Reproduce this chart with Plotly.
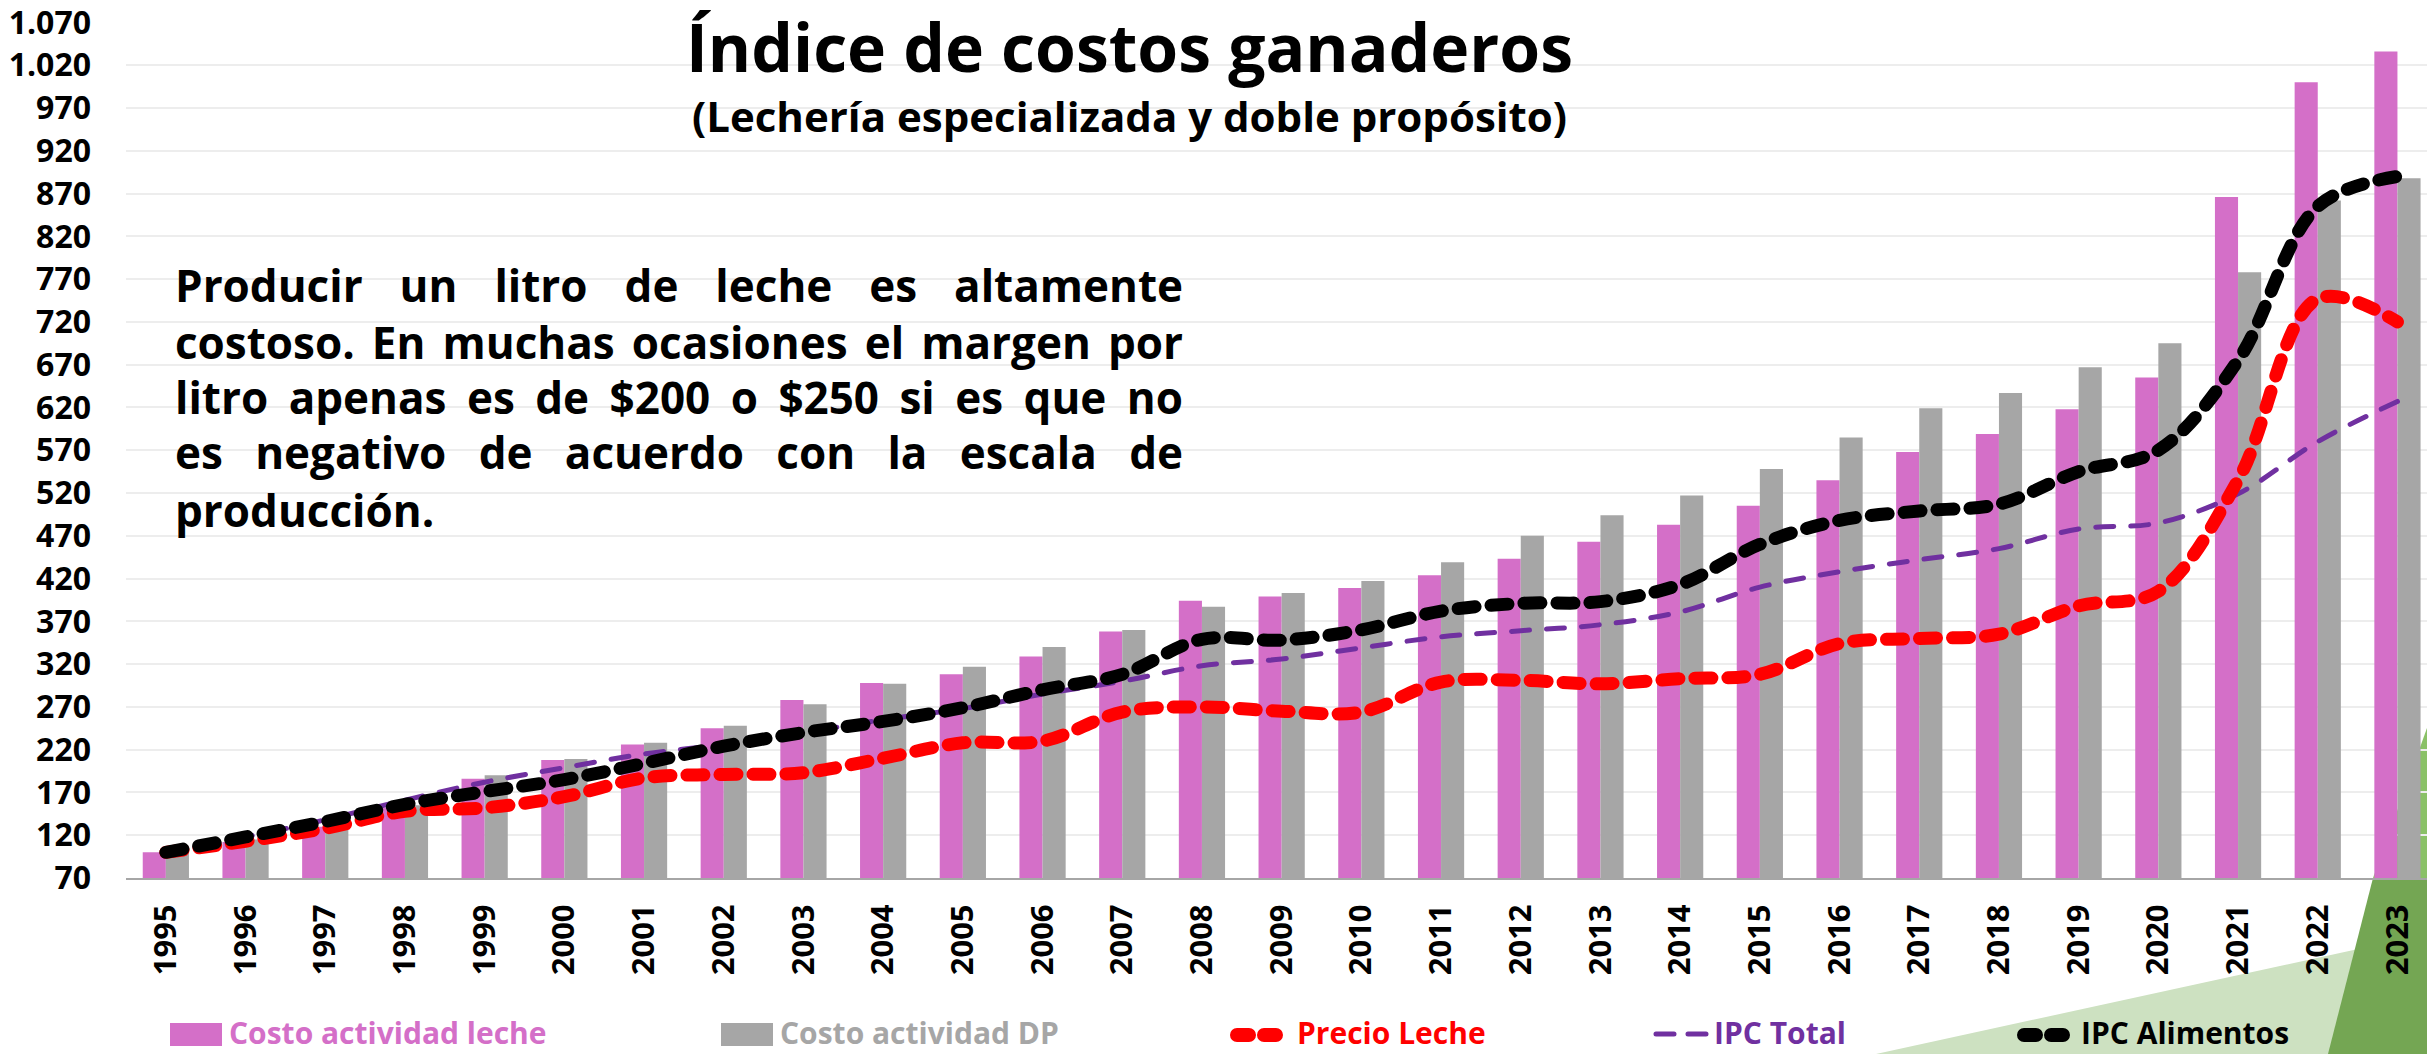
import json
import plotly.graph_objects as go

# ---------------- data ----------------
years = [str(y) for y in range(1995, 2024)]
costo_leche = [100, 112, 130, 152, 186, 208, 226, 245, 278, 298, 308, 329, 358, 394, 399,
               409, 424, 443, 463, 483, 505, 535, 568, 589, 618, 655, 866, 1000, 1036]
costo_dp = [100, 115, 133, 155, 190, 209, 228, 248, 273, 297, 317, 340, 360, 387, 403,
            417, 439, 470, 494, 517, 548, 585, 619, 637, 667, 695, 778, 862, 888]
precio_leche = [100, 113, 128, 148, 152, 165, 187, 191, 193, 210, 228, 230, 264, 270, 265,
                264, 299, 301, 297, 303, 308, 344, 350, 355, 388, 405, 535, 747, 720]
ipc_total = [100, 118, 138, 161, 182, 199, 215, 226, 240, 255, 268, 285, 300, 318, 326,
             339, 352, 359, 366, 381, 410, 428, 442, 455, 478, 485, 519, 580, 627]
ipc_alimentos = [100, 118, 136, 156, 171, 185, 204, 224, 240, 253, 269, 290, 308, 349, 348,
                 360, 382, 391, 393, 413, 460, 488, 499, 507, 545, 570, 675, 855, 890]
y_ticks = list(range(70, 1071, 50))

title = "Índice de costos ganaderos"
subtitle = "(Lechería especializada y doble propósito)"
paragraph = [
    "Producir un litro de leche es altamente",
    "costoso. En muchas ocasiones el margen por",
    "litro apenas es de $200 o $250 si es que no",
    "es negativo de acuerdo con la escala de",
    "producción.",
]
series_names = ["Costo actividad leche", "Costo actividad DP", "Precio Leche",
                "IPC Total", "IPC Alimentos"]

# ---------------- styles ----------------
PINK = "#D46FC8"
GRAY = "#A6A6A6"
RED = "#FF0000"
PURPLE = "#7030A0"
BLACK = "#000000"
FONT = "Open Sans, Noto Sans, DejaVu Sans, sans-serif"

W_FIG, H_FIG = 2427, 1054
X0, X1 = 126, 2427
Y_TOP, Y_BOT = 22, 878
PW, PH = X1 - X0, Y_BOT - Y_TOP


def px(x):
    return (x - X0) / PW


def py(y):
    return (Y_BOT - y) / PH


fig = go.Figure()
fig.add_trace(go.Bar(x=years, y=costo_leche, name=series_names[0], marker_color=PINK,
                     marker_line_width=0))
fig.add_trace(go.Bar(x=years, y=costo_dp, name=series_names[1], marker_color=GRAY,
                     marker_line_width=0))
fig.add_trace(go.Scatter(x=years, y=ipc_total, name=series_names[3], mode="lines",
                         line=dict(color=PURPLE, width=5, dash="18px,17px",
                                   shape="spline", smoothing=1.0)))
fig.add_trace(go.Scatter(x=years, y=precio_leche, name=series_names[2], mode="lines",
                         line=dict(color=RED, width=13, dash="17px,16px",
                                   shape="spline", smoothing=1.0)))
fig.add_trace(go.Scatter(x=years, y=ipc_alimentos, name=series_names[4], mode="lines",
                         line=dict(color=BLACK, width=13, dash="17px,16px",
                                   shape="spline", smoothing=1.0)))

shapes = []
# decorative green triangles (bottom right)
shapes.append(dict(type="path", xref="paper", yref="paper", layer="below",
                   path=f"M{px(1876)},{py(1054)} L{px(2427)},{py(934)} L{px(2427)},{py(1054)} Z",
                   fillcolor="#CDE1C1", line=dict(width=0)))
shapes.append(dict(type="path", xref="paper", yref="paper", layer="below",
                   path=f"M{px(2328)},{py(1054)} L{px(2373)},{py(878)} L{px(2427)},{py(878)} L{px(2427)},{py(1054)} Z",
                   fillcolor="#74A653", line=dict(width=0)))
shapes.append(dict(type="path", xref="paper", yref="paper", layer="below",
                   path=f"M{px(2373)},{py(878)} L{px(2427)},{py(728)} L{px(2427)},{py(878)} Z",
                   fillcolor="#8AC167", line=dict(width=0)))

# manual legend symbols
shapes.append(dict(type="rect", xref="paper", yref="paper", x0=px(170), x1=px(222),
                   y0=py(1023), y1=py(1046), fillcolor=PINK, line=dict(width=0)))
shapes.append(dict(type="rect", xref="paper", yref="paper", x0=px(721), x1=px(773),
                   y0=py(1023), y1=py(1046), fillcolor=GRAY, line=dict(width=0)))
shapes.append(dict(type="line", xref="paper", yref="paper", x0=px(1237), x1=px(1276),
                   y0=py(1035), y1=py(1035), line=dict(color=RED, width=14, dash="12px,15px")))
shapes.append(dict(type="line", xref="paper", yref="paper", x0=px(1656), x1=px(1708),
                   y0=py(1034), y1=py(1034), line=dict(color=PURPLE, width=5, dash="18px,14px")))
shapes.append(dict(type="line", xref="paper", yref="paper", x0=px(2024), x1=px(2063),
                   y0=py(1035), y1=py(1035), line=dict(color=BLACK, width=14, dash="12px,15px")))

annotations = []
annotations.append(dict(text=f"<b>{title}</b>", x=px(1129), y=py(46), xref="paper", yref="paper",
                        xanchor="center", yanchor="middle", showarrow=False,
                        font=dict(family=FONT, size=66, color="black")))
annotations.append(dict(text=f"<b>{subtitle}</b>", x=px(1129), y=py(115), xref="paper",
                        yref="paper", xanchor="center", yanchor="middle", showarrow=False,
                        font=dict(family=FONT, size=42, color="black")))
line_y = [285, 342, 397, 452, 510]
for txt, yy in zip(paragraph, line_y):
    annotations.append(dict(text=txt, x=px(173), y=py(yy), xref="paper", yref="paper",
                            xanchor="left", yanchor="middle", align="left", showarrow=False,
                            font=dict(family=FONT, size=44, color="black", weight="bold")))

legend_text_x = [227, 778, 1295, 1712, 2079]
legend_colors = [PINK, GRAY, RED, PURPLE, BLACK]
for name, xx, col in zip(series_names, legend_text_x, legend_colors):
    annotations.append(dict(text=name, x=px(xx), y=py(1032), xref="paper", yref="paper",
                            xanchor="left", yanchor="middle", showarrow=False,
                            font=dict(family=FONT, size=30, color=col, weight="bold")))

fig.update_layout(
    width=W_FIG, height=H_FIG,
    margin=dict(l=X0, r=W_FIG - X1, t=Y_TOP, b=H_FIG - Y_BOT, pad=0),
    paper_bgcolor="white", plot_bgcolor="rgba(0,0,0,0)",
    barmode="group", bargap=0.42, bargroupgap=0,
    showlegend=False,
    separators=",.",
    shapes=shapes, annotations=annotations,
    font=dict(family=FONT, color="black"),
)
fig.update_xaxes(type="category", range=[-0.5, -0.5 + PW / 79.7], tickangle=-90,
                 showgrid=False, showline=True, linecolor="#A6A6A6", linewidth=2,
                 ticks="", ticklabelstandoff=12,
                 tickfont=dict(family=FONT, size=31, color="black", weight="bold"))
fig.update_yaxes(range=[70, 1070.5], tickvals=y_ticks, tickformat=",d",
                 showgrid=True, gridcolor="#EDEDED", gridwidth=1.5, zeroline=False,
                 showline=False, ticks="", ticklabelstandoff=34, ticklabeloverflow="allow",
                 tickfont=dict(family=FONT, size=32, color="black", weight="bold"))

justify = json.dumps(paragraph[:-1], ensure_ascii=False)
post_script = """
(function(){
  document.body.style.margin = '0';
  document.body.style.padding = '0';
  document.documentElement.style.overflow = 'hidden';
  var gd = document.getElementById('{plot_id}');
  var JL = %s;
  var TARGET = 1008;
  function fix(){
    gd.querySelectorAll('.scatterlayer path.js-line').forEach(function(p){
      p.style.strokeLinecap='round'; p.style.strokeLinejoin='round';});
    gd.querySelectorAll('.shapelayer path').forEach(function(p){p.style.strokeLinecap='round';});
    gd.querySelectorAll('text.annotation-text').forEach(function(t){
      var s = t.textContent;
      if (JL.indexOf(s) >= 0) {
        t.style.wordSpacing = '0px';
        var w = t.getComputedTextLength();
        var n = s.split(' ').length - 1;
        if (n > 0) { t.style.wordSpacing = ((TARGET - w) / n) + 'px'; }
      }
    });
  }
  fix();
  setTimeout(fix, 200);
  setTimeout(fix, 800);
  if (gd.on) { gd.on('plotly_afterplot', fix); }
})();
""" % justify

fig.write_html("out.html", post_script=post_script, config={"displayModeBar": False})
